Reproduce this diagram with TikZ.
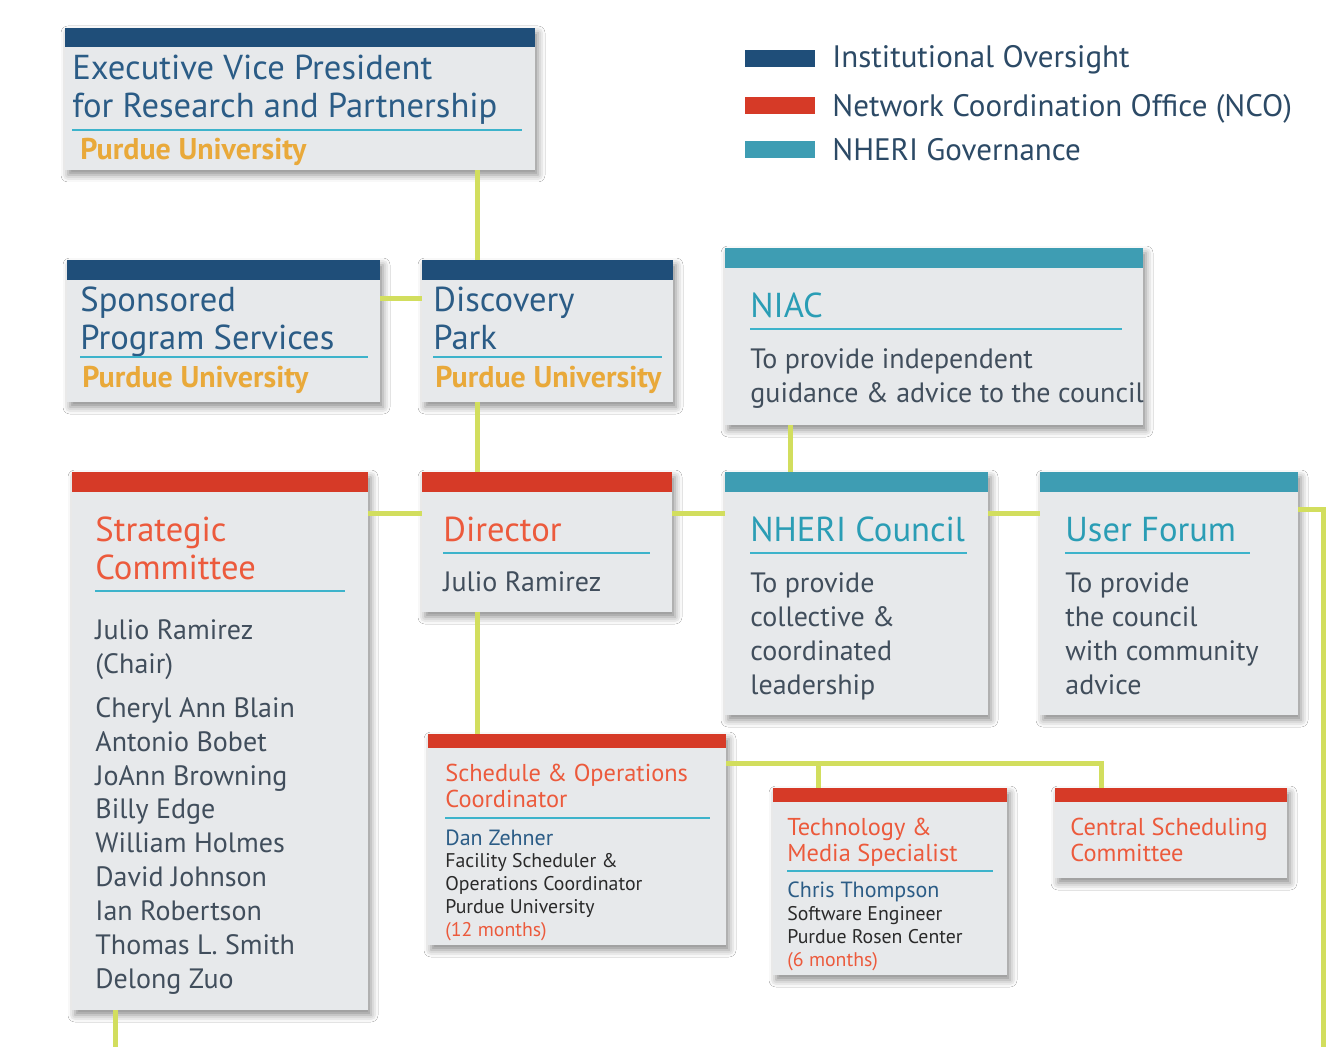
\documentclass[tikz,border=0pt]{standalone}
\usepackage{fontspec}
\setmainfont{PT Sans}
\usetikzlibrary{fit,shadows.blur}

\definecolor{oversight}{HTML}{1F4E79}
\definecolor{ncored}{HTML}{D63A27}
\definecolor{govteal}{HTML}{3E9DB3}
\definecolor{boxgray}{HTML}{E7E9EB}
\definecolor{bluetext}{HTML}{2B5C86}
\definecolor{ncotext}{HTML}{EC5A3C}
\definecolor{tealtext}{HTML}{2A9DB5}
\definecolor{goldtext}{HTML}{E9A93A}
\definecolor{rulecyan}{HTML}{3DB3CB}
\definecolor{bodygray}{HTML}{414E5C}
\definecolor{darktext}{HTML}{2A2A2A}
\definecolor{linkgreen}{HTML}{D2DE5E}
\definecolor{legendtext}{HTML}{2C4A66}

\tikzset{
  box/.style={fill=boxgray, inner sep=0pt,
    blur shadow={shadow xshift=1.5pt, shadow yshift=-2.5pt, shadow blur radius=3.5pt, shadow opacity=45}},
  link/.style={draw=linkgreen, line width=2.5pt},
  rule/.style={draw=rulecyan, line width=1.1pt},
  txt/.style={anchor=base west, inner sep=0pt},
  headline/.style={txt, font=\fontsize{17.3}{19}\selectfont},
  uniline/.style={txt, font=\fontsize{15}{16}\selectfont\bfseries, text=goldtext},
  bodyline/.style={txt, font=\fontsize{14}{16}\selectfont, text=bodygray},
  smallhead/.style={txt, font=\fontsize{12.2}{14}\selectfont, text=ncotext},
  smallline/.style={txt, font=\fontsize{9.9}{12}\selectfont, text=darktext},
  legendline/.style={txt, font=\fontsize{15.5}{17}\selectfont, text=legendtext}
}

\begin{document}
\begin{tikzpicture}[x=0.5pt, y=-0.5pt]
\fill[white] (0,0) rectangle (1327,1047);
\useasboundingbox (0,0) rectangle (1327,1047);

% legend
\fill[oversight] (745,50) rectangle (815,67);
\node[legendline] (lg1) at (832,68) {Institutional Oversight};
\fill[ncored] (745,97) rectangle (815,114);
\node[legendline] (lg2) at (832,117) {Network Coordination Office (NCO)};
\fill[govteal] (745,141) rectangle (815,158);
\node[legendline] (lg3) at (832,161) {NHERI Governance};

% oversight boxes
\node[box, fit={(65,28) (535,170)}] (evp) {};
\fill[oversight] (evp.north west) rectangle ([yshift=-9.5pt]evp.north east);
\node[headline, text=bluetext] (evp1) at (72,80) {Executive Vice President};
\node[headline, text=bluetext] (evp2) at (72,118) {for Research and Partnership};
\draw[rule] (72,130) -- (522,130);
\node[uniline] (evp3) at (80,160) {Purdue University};

\node[box, fit={(67,260) (380,402)}] (sps) {};
\fill[oversight] (sps.north west) rectangle ([yshift=-10pt]sps.north east);
\node[headline, text=bluetext] (sps1) at (80,312) {Sponsored};
\node[headline, text=bluetext] (sps2) at (80,350) {Program Services};
\draw[rule] (80,357) -- (368,357);
\node[uniline] (sps3) at (82,388) {Purdue University};

\node[box, fit={(422,260) (673,402)}] (dp) {};
\fill[oversight] (dp.north west) rectangle ([yshift=-10pt]dp.north east);
\node[headline, text=bluetext] (dp1) at (433,312) {Discovery};
\node[headline, text=bluetext] (dp2) at (433,350) {Park};
\draw[rule] (433,357) -- (662,357);
\node[uniline] (dp3) at (435,388) {Purdue University};

% governance boxes
\node[box, fit={(725,248) (1143,425)}] (niac) {};
\fill[govteal] (niac.north west) rectangle ([yshift=-10pt]niac.north east);
\node[headline, text=tealtext] (niac1) at (750,318) {NIAC};
\draw[rule] (750,329) -- (1122,329);
\node[bodyline] (niac2) at (750,369) {To provide independent};
\node[bodyline] (niac3) at (750,403) {guidance \& advice to the council};

\node[box, fit={(725,472) (988,715)}] (nc) {};
\fill[govteal] (nc.north west) rectangle ([yshift=-10pt]nc.north east);
\node[headline, text=tealtext] (nc1) at (750,541) {NHERI Council};
\draw[rule] (750,553) -- (967,553);
\foreach \y/\t [count=\i] in {592/To provide, 626/collective \&, 660/coordinated, 694/leadership}
  \node[bodyline] (nc-\i) at (750,\y) {\t};

\node[box, fit={(1040,472) (1298,715)}] (uf) {};
\fill[govteal] (uf.north west) rectangle ([yshift=-10pt]uf.north east);
\node[headline, text=tealtext] (uf1) at (1065,541) {User Forum};
\draw[rule] (1065,553) -- (1250,553);
\foreach \y/\t [count=\i] in {592/To provide, 626/the council, 660/with community, 694/advice}
  \node[bodyline] (uf-\i) at (1065,\y) {\t};

% NCO boxes
\node[box, fit={(72,472) (368,1010)}] (sc) {};
\fill[ncored] (sc.north west) rectangle ([yshift=-10pt]sc.north east);
\node[headline, text=ncotext] (sc1) at (95,541) {Strategic};
\node[headline, text=ncotext] (sc2) at (95,579) {Committee};
\draw[rule] (95,591) -- (345,591);
\foreach \y/\t [count=\i] in {639/Julio Ramirez, 673/(Chair), 717/Cheryl Ann Blain, 751/Antonio Bobet,
    785/JoAnn Browning, 818/Billy Edge, 852/William Holmes, 886/David Johnson,
    920/Ian Robertson, 954/Thomas L. Smith, 988/Delong Zuo}
  \node[bodyline] (sc-\i) at (95,\y) {\t};

\node[box, fit={(422,472) (672,612)}] (dir) {};
\fill[ncored] (dir.north west) rectangle ([yshift=-10pt]dir.north east);
\node[headline, text=ncotext] (dir1) at (443,541) {Director};
\draw[rule] (443,553) -- (650,553);
\node[bodyline] (dir2) at (443,591) {Julio Ramirez};

\node[box, fit={(428,734) (726,945)}] (soc) {};
\fill[ncored] (soc.north west) rectangle ([yshift=-7pt]soc.north east);
\node[smallhead] (soc1) at (445,781) {Schedule \& Operations};
\node[smallhead] (soc2) at (445,807) {Coordinator};
\draw[rule] (445,818) -- (710,818);
\node[smallline, font=\fontsize{11}{13}\selectfont, text=bluetext] (soc3) at (445,845) {Dan Zehner};
\node[smallline] (soc4) at (445,867) {Facility Scheduler \&};
\node[smallline] (soc5) at (445,890) {Operations Coordinator};
\node[smallline] (soc6) at (445,913) {Purdue University};
\node[smallline, text=ncotext] (soc7) at (445,936) {(12 months)};

\node[box, fit={(773,788) (1007,975)}] (tech) {};
\fill[ncored] (tech.north west) rectangle ([yshift=-7pt]tech.north east);
\node[smallhead] (tech1) at (787,835) {Technology \&};
\node[smallhead] (tech2) at (787,861) {Media Specialist};
\draw[rule] (787,871) -- (993,871);
\node[smallline, font=\fontsize{11}{13}\selectfont, text=bluetext] (tech3) at (787,897) {Chris Thompson};
\node[smallline] (tech4) at (787,920) {Software Engineer};
\node[smallline] (tech5) at (787,943) {Purdue Rosen Center};
\node[smallline, text=ncotext] (tech6) at (787,966) {(6 months)};

\node[box, fit={(1055,788) (1287,878)}] (csc) {};
\fill[ncored] (csc.north west) rectangle ([yshift=-7pt]csc.north east);
\node[smallhead] (csc1) at (1070,835) {Central Scheduling};
\node[smallhead] (csc2) at (1070,861) {Committee};

% connectors
\coordinate (spine) at (477,0);
\coordinate (spsrow) at (0,299);
\coordinate (midrow) at (0,514);
\coordinate (ufrow) at (0,510);
\coordinate (ufend) at (1323,1047);
\coordinate (niacx) at (790,0);
\coordinate (socrow) at (0,763);
\coordinate (techx) at (818,0);
\coordinate (cscx) at (1101,763);
\coordinate (scend) at (115,1047);

\draw[link] (evp.south -| spine) -- (dp.north -| spine);
\draw[link] (sps.east |- spsrow) -- (dp.west |- spsrow);
\draw[link] (dp.south -| spine) -- (dir.north -| spine);
\draw[link] (sc.east |- midrow) -- (dir.west |- midrow);
\draw[link] (dir.east |- midrow) -- (nc.west |- midrow);
\draw[link] (nc.east |- midrow) -- (uf.west |- midrow);
\draw[link] (uf.east |- ufrow) -| (ufend);
\draw[link] (niac.south -| niacx) -- (nc.north -| niacx);
\draw[link] (dir.south -| spine) -- (soc.north -| spine);
\draw[link] (soc.east |- socrow) -- (cscx) -- (csc.north -| cscx);
\draw[link] (techx |- socrow) -- (tech.north -| techx);
\draw[link] (sc.south -| scend) -- (scend);
\end{tikzpicture}
\end{document}
